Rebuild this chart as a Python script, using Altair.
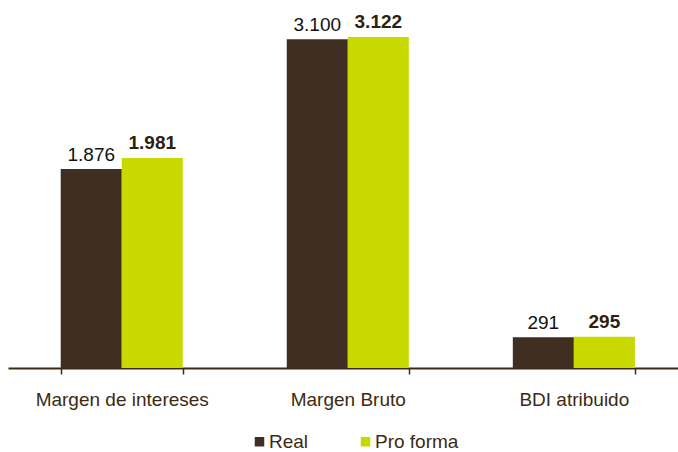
import altair as alt
import pandas as pd

categories = ["Margen de intereses", "Margen Bruto", "BDI atribuido"]
series = ["Real", "Pro forma"]
real = [1876, 3100, 291]
pro_forma = [1981, 3122, 295]
colors = ["#3F2F22", "#C8D900"]

rows = []
for c, r, p in zip(categories, real, pro_forma):
    rows.append({"cat": c, "serie": "Real", "value": r})
    rows.append({"cat": c, "serie": "Pro forma", "value": p})
df = pd.DataFrame(rows)

FONT = "Liberation Sans"
BROWN = "#3D2A12"
FS = 19

x = alt.X(
    "cat:N",
    sort=categories,
    scale=alt.Scale(paddingInner=0.46, paddingOuter=0.212, align=0.55),
    axis=alt.Axis(
        title=None,
        labelAngle=0,
        grid=False,
        domainColor=BROWN,
        domainWidth=2,
        tickColor=BROWN,
        tickWidth=1.5,
        tickSize=6,
        tickBand="extent",
        labelFontSize=FS,
        labelFont=FONT,
        labelColor=BROWN,
        labelPadding=16,
    ),
)
xo = alt.XOffset("serie:N", sort=series, scale=alt.Scale(paddingInner=0, paddingOuter=0))
y = alt.Y("value:Q", scale=alt.Scale(domain=[0, 3470]), axis=None)
color = alt.Color(
    "serie:N",
    sort=series,
    scale=alt.Scale(domain=series, range=colors),
    legend=alt.Legend(
        title=None,
        orient="none",
        direction="horizontal",
        legendX=242,
        legendY=432,
        symbolType="square",
        symbolSize=90,
        symbolStrokeWidth=0,
        labelFontSize=FS,
        labelFont=FONT,
        labelColor=BROWN,
        labelOffset=0,
        columnPadding=47,
        padding=0,
    ),
)

base = alt.Chart(df).encode(x=x, xOffset=xo, y=y)

bars = base.mark_bar().encode(color=color)

label_expr = "replace(format(datum.value, ',d'), ',', '.')"

real_text = (
    base.transform_filter(alt.datum.serie == "Real")
    .transform_calculate(lbl=label_expr)
    .mark_text(baseline="alphabetic", dy=-8, fontSize=FS, font=FONT, color="#111111")
    .encode(text="lbl:N")
)
pro_text = (
    base.transform_filter(alt.datum.serie == "Pro forma")
    .transform_calculate(lbl=label_expr)
    .mark_text(baseline="alphabetic", dy=-9, fontSize=FS, font=FONT, fontWeight="bold", color="#2E1F10")
    .encode(text="lbl:N")
)

chart = (
    alt.layer(bars, real_text, pro_text)
    .properties(
        width=670,
        height=368,
        padding={"left": 8, "top": 0, "right": 0, "bottom": 84},
        autosize="none",
        background="white",
    )
    .configure_view(stroke="transparent", strokeWidth=0)
)

chart.save("out.html", embed_options={"renderer": "svg", "actions": False})
